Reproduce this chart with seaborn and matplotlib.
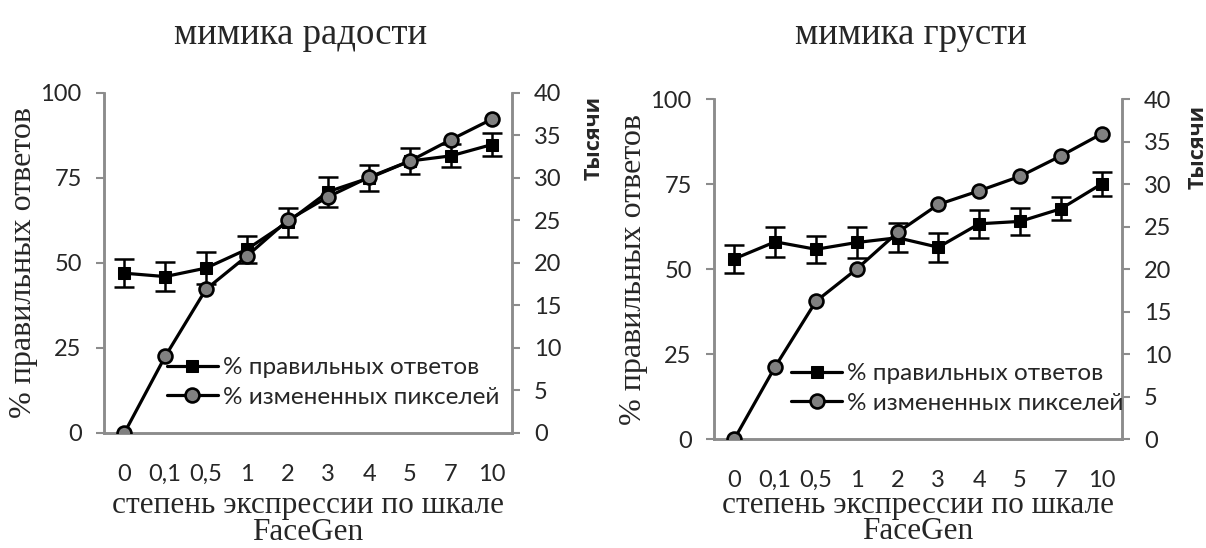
import numpy as np
import pandas as pd
import matplotlib
matplotlib.use("Agg")
import matplotlib.pyplot as plt
import seaborn as sns

# Data
levels = ["0", "0,1", "0,5", "1", "2", "3", "4", "5", "7", "10"]

joy_correct = [47, 46, 48.5, 54, 62, 71, 75, 80, 81.5, 84.8]
joy_correct_err = [4.2, 4.2, 4.7, 3.9, 4.3, 4.4, 3.7, 3.7, 3.4, 3.4]
joy_pixels = [0, 9.0, 16.9, 20.8, 25.0, 27.8, 30.1, 32.0, 34.5, 36.9]

sad_correct = [53, 58, 55.8, 57.8, 59.2, 56.4, 63.3, 64, 67.7, 75]
sad_correct_err = [4.2, 4.4, 4.0, 4.5, 4.2, 4.3, 4.2, 4.0, 3.4, 3.6]
sad_pixels = [0, 8.5, 16.2, 20.0, 24.3, 27.6, 29.2, 30.9, 33.3, 35.9]

titles = ["мимика радости", "мимика грусти"]

sns.set_theme(style="white")
plt.rcParams['font.family'] = ['Lato', 'DejaVu Sans']

SERIF = ['Liberation Serif', 'DejaVu Serif']
GRAY = '#8c8c8c'

fig = plt.figure(figsize=(12.06, 5.48), dpi=100)

panels = [
    dict(rect=[0.0862, 0.2099, 0.3383, 0.6204], corr=joy_correct, err=joy_correct_err,
         pix=joy_pixels, title=titles[0], tx=0.2496, leg=(0.13, 0.045),
         tys=(1.175, 0.868), xpad=5),
    dict(rect=[0.5920, 0.1989, 0.3383, 0.6204], corr=sad_correct, err=sad_correct_err,
         pix=sad_pixels, title=titles[1], tx=0.7555, leg=(0.165, 0.045),
         tys=(1.16, 0.859), xpad=0),
]

x = np.arange(len(levels))

for p in panels:
    ax = fig.add_axes(p['rect'])
    df = pd.DataFrame({'x': x, 'corr': p['corr'], 'pix': p['pix']})

    ax.errorbar(x, p['corr'], yerr=p['err'], fmt='none', ecolor='black',
                elinewidth=1.8, capsize=7.5, capthick=1.8, zorder=2)
    sns.lineplot(data=df, x='x', y='corr', ax=ax, color='black', lw=2.3,
                 marker='s', markersize=8.5, markerfacecolor='black',
                 markeredgecolor='black', label='% правильных ответов',
                 legend=False, zorder=3)
    ax.set_ylim(0, 100)
    ax.set_xlim(-0.5, len(levels) - 0.5)
    ax.set_yticks([0, 25, 50, 75, 100])
    ax.set_xticks(x)
    ax.set_xticklabels(levels)

    ax2 = ax.twinx()
    sns.lineplot(data=df, x='x', y='pix', ax=ax2, color='black', lw=2.3,
                 marker='o', markersize=10, markerfacecolor='#808080',
                 markeredgecolor='black', markeredgewidth=1.9,
                 label='% измененных пикселей', legend=False, zorder=3)
    ax2.set_ylim(0, 40)
    ax2.set_yticks(range(0, 41, 5))
    ax2.set_xlim(-0.5, len(levels) - 0.5)

    for a in (ax, ax2):
        a.spines['top'].set_visible(False)
        for s in ('left', 'right', 'bottom'):
            a.spines[s].set_color(GRAY)
            a.spines[s].set_linewidth(1.8)
        a.grid(False)

    ax.tick_params(axis='y', left=True, length=6, width=1.5, color=GRAY,
                   labelsize=17, pad=10)
    ax.tick_params(axis='x', bottom=False, labelsize=17, pad=16)
    ax2.tick_params(axis='y', right=True, length=6, width=1.5, color=GRAY,
                    labelsize=17, pad=10)

    ax.set_ylabel('% правильных ответов', family=SERIF, fontsize=23, labelpad=2)
    ax.set_xlabel('степень экспрессии по шкале\nFaceGen', family=SERIF,
                  fontsize=22.5, labelpad=p['xpad'], linespacing=0.88)
    ax2.set_ylabel('Тысячи', fontsize=15.5, fontweight='bold',
                   family=['Open Sans', 'DejaVu Sans'])
    ax2.yaxis.set_label_coords(*p['tys'])

    fig.text(p['tx'], 0.936, p['title'], family=SERIF, fontsize=26.5,
             ha='center', va='center')

    h1, l1 = ax.get_legend_handles_labels()
    h2, l2 = ax2.get_legend_handles_labels()
    ax2.legend(h1 + h2, l1 + l2, loc='lower left', bbox_to_anchor=p['leg'],
               frameon=False, fontsize=17.5, handlelength=2.1, handletextpad=0.2,
               borderaxespad=0, labelspacing=0.35)

fig.savefig('out.png', dpi=100)
